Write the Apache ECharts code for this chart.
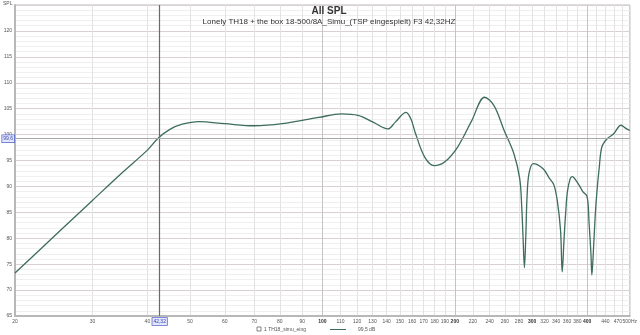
<!DOCTYPE html>
<html>
<head>
<meta charset="utf-8">
<script src="https://cdn.jsdelivr.net/npm/echarts@6/dist/echarts.min.js"></script>
<style>
html,body{margin:0;padding:0;background:#fff;}
#chart{width:640px;height:335px;}
</style>
</head>
<body>
<div id="chart"></div>
<script>
// Frequency (Hz) and SPL (dB)
const freqs = [20,25,30,35,40,42.3,45,48,52.4,60,70,81,98,110.6,120.6,130.4,141,146.5,155,159,163,171,179.6,189.6,203,218.6,233.8,245.6,259,272.6,281,284,286,288,290,292,295,301.7,317.6,328,336,342,348,351,354.5,357.5,360.7,366,369.6,381.9,391,400,404,408,410,413,417,421,426,432,444,459,477.6,490,500];
const spl = [73.3,81.0,87.3,92.6,97.0,99.3,101.0,102.0,102.5,102.1,101.7,102.1,103.3,104.0,103.7,102.4,101.1,102.4,104.3,103.0,100.1,95.6,94.0,94.7,97.6,102.7,107.2,105.6,100.8,96.3,91.5,86,80,74.3,80,88,92.5,94.4,93.4,91.6,90.3,87.3,81.5,73.5,80,85,89,91.5,91.9,90.5,89,88,83,77,72.9,77,84,89,93.5,97.6,99.2,100.1,101.8,101.2,100.8];

const xGridTicks = [20,30,40,50,60,70,80,90,100,110,120,130,140,150,160,170,180,190,200,220,240,260,280,300,320,340,360,380,400,420,440,460,480,500];
const xLabelTicks = [20,30,40,50,60,70,80,90,100,110,120,130,140,150,160,170,180,190,200,220,240,260,280,300,320,340,360,380,400,440,470,500];
const boldTicks = [100,200,300,400];
const darkGridTicks = [100,200,400];

const cursorFreq = 42.32;
const cursorFreqText = '42,32';
const cursorLevel = 99.2;
const cursorLevelText = '99,6';

const titleText = 'All SPL';
const subText = 'Lonely TH18 + the box 18-500/8A_Simu_(TSP eingespielt) F3 42,32HZ';
const legendName = '1 TH18_simu_eing';
const legendValue = '99,5 dB';

const lg = v => Math.log10(v);
const seriesData = freqs.map((f, i) => [lg(f), spl[i]]);
const gridColors = xGridTicks.map(t => darkGridTicks.indexOf(t) >= 0 ? '#c4c4c4' : '#e3e3e3');

const chart = echarts.init(document.getElementById('chart'), null, {renderer: 'canvas'});
chart.setOption({
  animation: false,
  backgroundColor: '#ffffff',
  textStyle: {fontFamily: 'Liberation Sans, Arial, sans-serif'},
  title: {
    text: titleText,
    subtext: subText,
    left: 324,
    textAlign: 'center',
    top: 1,
    itemGap: 2,
    textStyle: {fontSize: 10, fontWeight: 'bold', color: '#333', fontFamily: 'Liberation Sans, Arial, sans-serif'},
    subtextStyle: {fontSize: 8, color: '#333', fontFamily: 'Liberation Sans, Arial, sans-serif'}
  },
  grid: {left: 15, right: 7, top: 5, bottom: 19, show: true, borderColor: '#bcbcbc', borderWidth: 1, backgroundColor: '#fff'},
  xAxis: {
    type: 'value',
    min: lg(20),
    max: lg(500),
    axisLine: {show: true, lineStyle: {color: '#b8b8b8', width: 2}},
    axisTick: {show: false, customValues: xGridTicks.map(lg)},
    axisLabel: {
      customValues: xLabelTicks.map(lg),
      fontSize: 5,
      color: '#555',
      margin: 3,
      hideOverlap: false,
      showMaxLabel: true,
      formatter: function (v) {
        const f = Math.round(Math.pow(10, v));
        const t = f === 500 ? '500Hz' : String(f);
        return boldTicks.indexOf(f) >= 0 ? '{b|' + t + '}' : t;
      },
      rich: {b: {fontSize: 5, fontWeight: 'bold', color: '#333'}}
    },
    splitLine: {show: true, lineStyle: {color: gridColors, width: 1}}
  },
  yAxis: {
    type: 'value',
    min: 65,
    max: 125,
    interval: 5,
    axisLine: {show: true, lineStyle: {color: '#b8b8b8', width: 2}},
    axisTick: {show: false},
    axisLabel: {
      fontSize: 5,
      color: '#555',
      margin: 3,
      formatter: v => (v >= 125 ? '' : String(v))
    },
    splitLine: {show: true, lineStyle: {color: '#d9d0d0', width: 1}},
    minorTick: {show: false, splitNumber: 5},
    minorSplitLine: {show: true, lineStyle: {color: '#efefef', width: 1}}
  },
  series: [{
    type: 'line',
    data: seriesData,
    showSymbol: false,
    smooth: 0.35,
    lineStyle: {color: '#3e6c5f', width: 1.3},
    markLine: {
      silent: true,
      symbol: 'none',
      animation: false,
      data: [
        {xAxis: lg(cursorFreq), lineStyle: {color: '#6a6a6a', width: 1.2, type: 'solid'},
          label: {show: true, position: 'start', formatter: cursorFreqText, fontSize: 5, color: '#3344aa',
            backgroundColor: '#e4e8ff', borderColor: '#5566cc', borderWidth: 0.8, padding: [1, 1], distance: 2}},
        {yAxis: cursorLevel, lineStyle: {color: '#a8a8a8', width: 1, type: 'solid'},
          label: {show: true, position: 'start', formatter: cursorLevelText, fontSize: 5, color: '#3344aa',
            backgroundColor: '#e4e8ff', borderColor: '#5566cc', borderWidth: 0.8, padding: [1, 1], distance: 1}}
      ]
    }
  }],
  graphic: [
    {type: 'text', left: 3, top: 1, style: {text: 'SPL', fontSize: 5, fill: '#555'}},
    {type: 'rect', shape: {x: 257, y: 327, width: 4, height: 4}, style: {fill: '#fff', stroke: '#666', lineWidth: 0.8}},
    {type: 'text', left: 264, top: 327, style: {text: legendName, fontSize: 5, fill: '#555'}},
    {type: 'line', shape: {x1: 330, y1: 329.5, x2: 346, y2: 329.5}, style: {stroke: '#3e6c5f', lineWidth: 1}},
    {type: 'text', left: 358, top: 327, style: {text: legendValue, fontSize: 5, fill: '#555'}}
  ]
});
</script>
</body>
</html>
